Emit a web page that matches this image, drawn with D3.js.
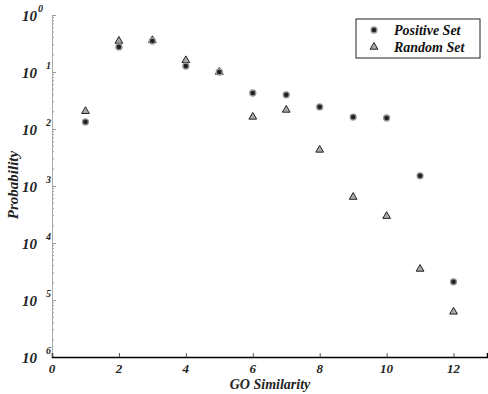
<!DOCTYPE html>
<html>
<head>
<meta charset="utf-8">
<script src="https://cdn.jsdelivr.net/npm/d3@7"></script>
<style>
  body { margin: 0; background: #fff; }
  text { font-family: "Liberation Serif", "Times New Roman", serif; font-weight: bold; font-style: italic; }
</style>
</head>
<body>
<div id="chart"></div>
<script>
// --- Donnees ---
const goSimilarity = [1, 2, 3, 4, 5, 6, 7, 8, 9, 10, 11, 12];
const positiveSet = [0.0133, 0.275, 0.35, 0.127, 0.1, 0.0428, 0.0397, 0.0244, 0.0162, 0.0156, 0.00151, 2.08e-5];
const randomSet = [0.0205, 0.35, 0.36, 0.16, 0.1, 0.0163, 0.0216, 0.0043, 0.00064, 0.000296, 3.5e-5, 6.2e-6];
const xTicks = [0, 2, 4, 6, 8, 10, 12];
const yExponents = [0, 1, 2, 3, 4, 5, 6];
const legendLabels = ["Positive Set", "Random Set"];

const width = 488, height = 394;
const margin = { top: 15, right: 1, bottom: 37, left: 52 };

const svg = d3.select("#chart").append("svg")
  .attr("width", width)
  .attr("height", height);

// --- Echelles ---
const xScale = d3.scaleLinear().domain([0, 13]).range([margin.left, width - margin.right]);
const yScale = d3.scaleLog().domain([1e-6, 1]).range([height - margin.bottom, margin.top]);

// --- Axe Y (gris, ticks vers l'interieur) ---
const minorTicks = [];
yExponents.slice(1).forEach(e => {
  for (let k = 2; k <= 9; k++) minorTicks.push(k * Math.pow(10, -e));
});
svg.append("g").selectAll("line.minor")
  .data(minorTicks).enter().append("line")
  .attr("x1", margin.left).attr("x2", margin.left + 2)
  .attr("y1", d => yScale(d)).attr("y2", d => yScale(d))
  .attr("stroke", "#999").attr("stroke-width", 1);

svg.append("g")
  .attr("transform", `translate(${margin.left},0)`)
  .call(d3.axisRight(yScale).tickValues(yExponents.map(e => Math.pow(10, -e))).tickSize(4).tickFormat(""))
  .call(g => g.select(".domain").attr("stroke", "#aaa"))
  .call(g => g.selectAll(".tick line").attr("stroke", "#999"));

// Labels Y : 10 avec exposant
const yLab = svg.append("g").selectAll("text")
  .data(yExponents).enter().append("text")
  .attr("x", 22)
  .attr("y", e => yScale(Math.pow(10, -e)) + 6)
  .attr("font-size", 15)
  .attr("fill", "#222");
yLab.append("tspan").text("10");
yLab.append("tspan")
  .attr("dx", e => e === 0 ? 1 : 9)
  .attr("dy", -9)
  .attr("font-size", 10)
  .text(e => e);

// --- Axe X ---
svg.append("g")
  .attr("transform", `translate(0,${height - margin.bottom})`)
  .call(d3.axisTop(xScale).tickValues(xTicks).tickSize(4).tickFormat(""))
  .call(g => g.select(".domain").attr("stroke", "#000").attr("stroke-width", 1.5))
  .call(g => g.selectAll(".tick line").attr("stroke", "#555"));

svg.append("g").selectAll("text")
  .data(xTicks).enter().append("text")
  .attr("x", d => xScale(d))
  .attr("y", height - margin.bottom + 16)
  .attr("text-anchor", "middle")
  .attr("font-size", 13)
  .attr("fill", "#222")
  .text(d => d);

// Titres
svg.append("text")
  .attr("x", 270).attr("y", 389)
  .attr("text-anchor", "middle")
  .attr("font-size", 14)
  .attr("fill", "#222")
  .text("GO Similarity");

svg.append("text")
  .attr("transform", "translate(18,185) rotate(-90)")
  .attr("text-anchor", "middle")
  .attr("font-size", 15)
  .attr("fill", "#222")
  .text("Probability");

// --- Points ---
const triangle = d3.symbol().type(d3.symbolTriangle).size(26);

function drawCircle(sel) {
  sel.attr("r", 3).attr("fill", "#222").attr("stroke", "#999").attr("stroke-width", 1.3);
}
function drawTriangle(sel) {
  sel.attr("d", triangle).attr("fill", "#aaa").attr("stroke", "#222").attr("stroke-width", 1);
}

svg.append("g").selectAll("path")
  .data(goSimilarity).enter().append("path")
  .attr("transform", (d, i) => `translate(${xScale(d)},${yScale(randomSet[i])})`)
  .call(drawTriangle);

svg.append("g").selectAll("circle")
  .data(goSimilarity).enter().append("circle")
  .attr("cx", d => xScale(d))
  .attr("cy", (d, i) => yScale(positiveSet[i]))
  .call(drawCircle);

// --- Legende ---
const legend = svg.append("g");
legend.append("rect")
  .attr("x", 356).attr("y", 19).attr("width", 124).attr("height", 39)
  .attr("fill", "#fff").attr("stroke", "#222").attr("stroke-width", 1);

legend.append("circle").attr("cx", 374).attr("cy", 30).call(drawCircle);
legend.append("path").attr("transform", "translate(374,47)").call(drawTriangle);

legend.selectAll("text.lab")
  .data(legendLabels).enter().append("text")
  .attr("x", 394)
  .attr("y", (d, i) => 35 + i * 17)
  .attr("font-size", 14)
  .attr("fill", "#111")
  .text(d => d);
</script>
</body>
</html>
